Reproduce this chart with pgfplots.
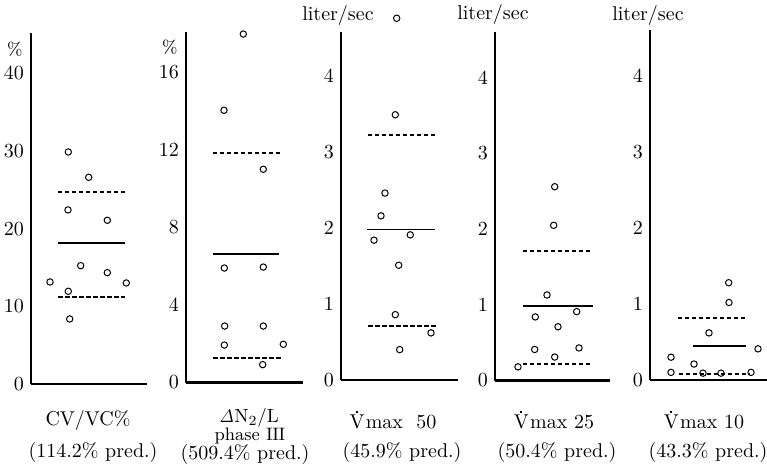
\documentclass[border=0pt]{standalone}
\usepackage{pgfplots}
\pgfplotsset{compat=1.18}
\tikzset{lab/.style={font=\fontsize{10}{12}\selectfont, inner sep=0pt}}
\newcommand{\Vdot}{V\llap{\raisebox{7.7pt}{\rule{0.95pt}{0.95pt}}\hspace{3.3pt}}\kern0.6pt}
\pgfplotsset{
  panel/.style={
    scale only axis, anchor=south west,
    axis x line*=bottom, axis y line*=left,
    axis line style={line width=1.1pt, -},
    xtick=\empty, major tick length=0pt,
    ymin=0, clip=false,
    tick label style={font=\fontsize{10}{12}\selectfont},
  },
  pts/.style={only marks, mark=o, mark size=1.6pt, mark options={line width=0.5pt, draw=black, fill=white}},
  meanl/.style={no marks, black, line width=0.9pt},
  sdl/.style={no marks, black, line width=1.1pt, dash pattern=on 2.2pt off 1.3pt},
}
\begin{document}
\begin{tikzpicture}
\useasboundingbox (0,0) rectangle (383.5pt,234pt);
% Panel 1: CV/VC%
\begin{axis}[panel, at={(15.5pt,42pt)}, width=58pt, height=175.5pt,
  xmin=31, xmax=147, ymax=45.17, ytick={0,10,20,30,40}]
\addplot[meanl] coordinates {(57.7,18.1) (125.3,18.1)};
\addplot[sdl] coordinates {(57.7,24.75) (125.3,24.75)};
\addplot[sdl] coordinates {(58.3,11.16) (125.3,11.16)};
\addplot[pts] coordinates {(68.3,29.86) (88.7,26.6) (68,22.4) (107.3,21.07) (80.7,15.23) (107.3,14.33) (50,13.13) (126.3,13.0) (68.3,11.93) (69.7,8.37)};
\node[lab, anchor=east, xshift=-4pt, font=\fontsize{9}{11}\selectfont] at (axis cs:31,43.1) {\%};
\node[lab, yshift=-18pt] at (axis cs:88,0) {CV/VC\%};
\node[lab, yshift=-34pt] at (axis cs:93,0) {(114.2\% pred.)};
\end{axis}
% Panel 2: Delta N2/L phase III
\begin{axis}[panel, at={(93pt,42.75pt)}, width=58.5pt, height=175.4pt,
  xmin=186, xmax=303, ymax=18.08, ytick={0,4,8,12,16}]
\addplot[meanl] coordinates {(213.3,6.64) (279.3,6.64)};
\addplot[sdl] coordinates {(212.7,11.83) (280.7,11.83)};
\addplot[sdl] coordinates {(213.3,1.25) (281.7,1.25)};
\addplot[pts] coordinates {(243.3,17.96) (224,14.03) (263.3,10.99) (224.3,5.90) (263.3,5.95) (224.7,2.91) (263.3,2.91) (224.3,1.93) (283.3,1.97) (262.7,0.92)};
\node[lab, anchor=east, xshift=-4pt, font=\fontsize{9}{11}\selectfont] at (axis cs:186,17.29) {\%};
\node[lab, yshift=-17.5pt, font=\fontsize{9.5}{11}\selectfont] at (axis cs:249,0) {$\mathit{\Delta}$N$_2$/L};
\node[lab, yshift=-26.5pt, font=\fontsize{9}{11}\selectfont] at (axis cs:250,0) {phase I\kern-0.2ptI\kern-0.2ptI};
\node[lab, yshift=-36pt] at (axis cs:245,0) {(509.4\% pred.)};
\end{axis}
% Panel 3: Vmax 50
\begin{axis}[panel, at={(170.5pt,44pt)}, width=58.5pt, height=174.15pt,
  xmin=341, xmax=458, ymax=4.583, ytick={0,1,2,3,4}]
\addplot[meanl] coordinates {(367.3,1.98) (435,1.98)};
\addplot[sdl] coordinates {(367.7,3.22) (435.7,3.22)};
\addplot[sdl] coordinates {(368.3,0.71) (435.7,0.71)};
\addplot[pts] coordinates {(396.7,4.76) (395.3,3.49) (385,2.46) (381,2.16) (374,1.84) (410.3,1.91) (398.7,1.51) (395.3,0.86) (431,0.62) (399.7,0.40)};
\node[lab] at (axis cs:338,4.80) {liter/sec};
\node[lab, yshift=-20pt] at (axis cs:393,0) {\Vdot max\ \ 50};
\node[lab, yshift=-36pt] at (axis cs:402,0) {(45.9\% pred.)};
\end{axis}
% Panel 4: Vmax 25
\begin{axis}[panel, at={(247.5pt,43.75pt)}, width=57.5pt, height=174.25pt,
  xmin=495, xmax=610, ymax=4.604, ytick={0,1,2,3,4}]
\addplot[meanl] coordinates {(523.3,0.98) (592.7,0.98)};
\addplot[sdl] coordinates {(523,1.71) (590,1.71)};
\addplot[sdl] coordinates {(523,0.22) (592,0.22)};
\addplot[pts] coordinates {(554.7,2.56) (553.7,2.05) (547,1.13) (535.3,0.84) (576.7,0.91) (558,0.71) (534.7,0.41) (579,0.43) (554.7,0.31) (518,0.18)};
\node[lab] at (axis cs:493,4.83) {liter/sec};
\node[lab, yshift=-19.75pt] at (axis cs:554,0) {\Vdot max 25};
\node[lab, yshift=-35.75pt] at (axis cs:557,0) {(50.4\% pred.)};
\end{axis}
% Panel 5: Vmax 10
\begin{axis}[panel, at={(325pt,44pt)}, width=58.5pt, height=175pt,
  xmin=650, xmax=767, ymax=4.605, ytick={0,1,2,3,4}]
\addplot[meanl] coordinates {(692.7,0.45) (746,0.45)};
\addplot[sdl] coordinates {(678,0.82) (746,0.82)};
\addplot[sdl] coordinates {(679,0.08) (750,0.08)};
\addplot[pts] coordinates {(728.7,1.28) (729,1.02) (709,0.62) (758,0.41) (671,0.30) (694,0.21) (671,0.10) (703,0.09) (721,0.09) (751,0.10)};
\node[lab] at (axis cs:648,4.80) {liter/sec};
\node[lab, yshift=-20pt] at (axis cs:704,0) {\Vdot max 10};
\node[lab, yshift=-36pt] at (axis cs:708,0) {(43.3\% pred.)};
\end{axis}
\end{tikzpicture}
\end{document}
